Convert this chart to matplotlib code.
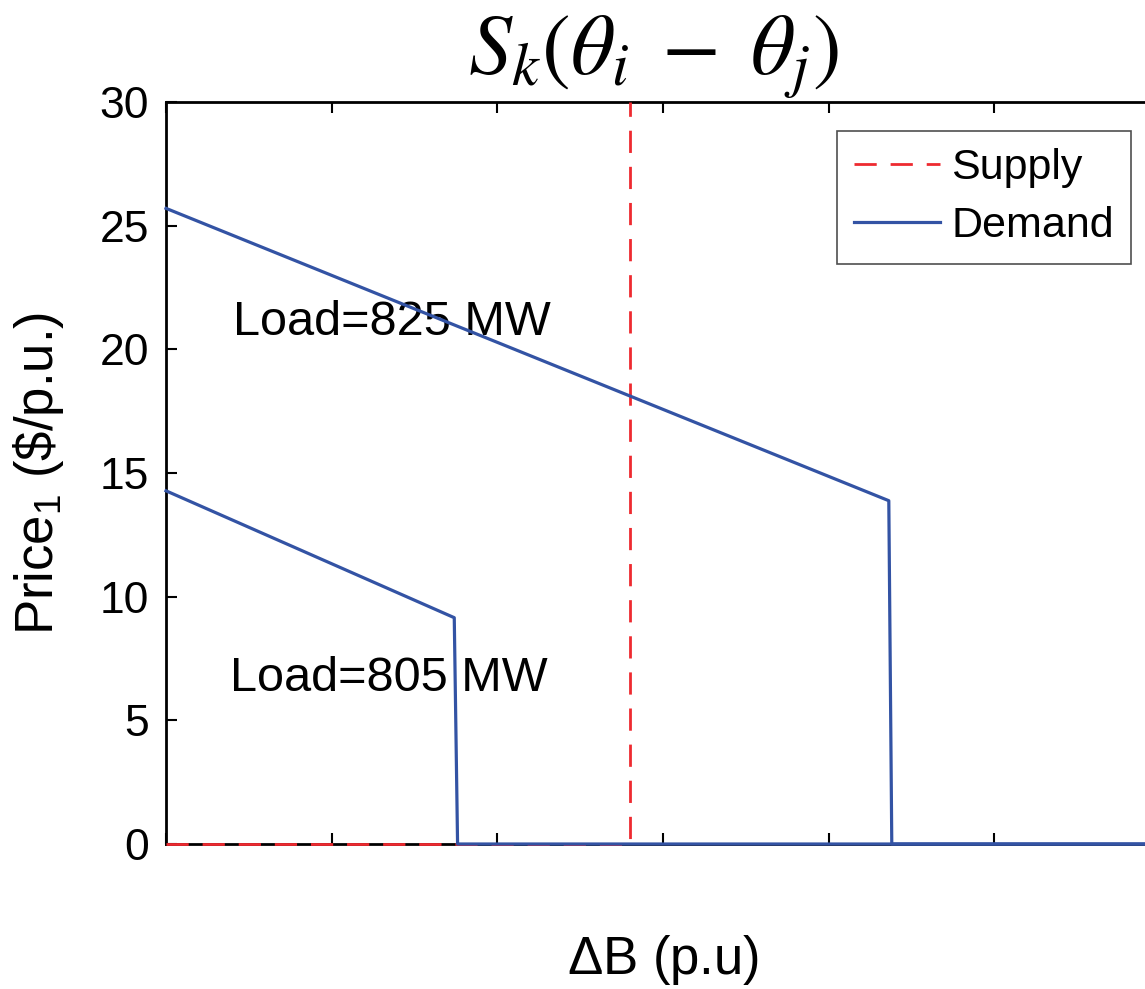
import matplotlib
matplotlib.use("Agg")
import matplotlib.pyplot as plt

plt.rcParams['font.family'] = ['Liberation Sans', 'DejaVu Sans']
plt.rcParams['mathtext.fontset'] = 'custom'
plt.rcParams['mathtext.rm'] = 'Liberation Sans'
plt.rcParams['mathtext.it'] = 'Liberation Sans:italic'

# data (x in tick units, y in $/p.u.)
supply_x = [0, 2.80, 2.80]
supply_y = [0, 0, 30]

demand825_x = [0, 4.363, 4.381, 6.2]
demand825_y = [25.7, 13.88, 0, 0]

demand805_x = [0, 1.740, 1.760, 6.2]
demand805_y = [14.28, 9.15, 0, 0]

labels = ["Load=825 MW", "Load=805 MW"]
label_pos = [(0.404, 21.07), (0.386, 6.71)]

yticks = [0, 5, 10, 15, 20, 25, 30]

blue = "#3353a4"
red = "#ee2a30"

W, H = 1145, 989
fig = plt.figure(figsize=(W / 100, H / 100), dpi=100)
ax = fig.add_axes([166 / W, (H - 844) / H, (1160 - 166) / W, (844 - 102) / H])

ax.plot(supply_x, supply_y, color=red, lw=2, dashes=(8, 5), label="Supply",
        zorder=4, clip_on=False)
ax.plot(demand825_x, demand825_y, color=blue, lw=2.3, label="Demand", zorder=5,
        clip_on=False)
ax.plot(demand805_x, demand805_y, color=blue, lw=2.3, zorder=5, clip_on=False)

for txt, (tx, ty) in zip(labels, label_pos):
    ax.text(tx, ty, txt, fontsize=35, ha="left", va="center")

ax.set_xlim(0, 6)
ax.set_ylim(0, 30)
ax.set_xticks(range(7))
ax.set_xticklabels([])
ax.set_yticks(yticks)
ax.set_yticklabels([str(v) for v in yticks])
ax.tick_params(direction="in", length=8, width=1.5, labelsize=32, pad=12,
               top=True, right=True)
for s in ax.spines.values():
    s.set_linewidth(2)

ax.set_xlabel(r"$\Delta$B (p.u)", fontsize=38, labelpad=52)
ax.set_ylabel(r"Price$_1$ (\$/p.u.)", fontsize=38, labelpad=24)
ax.set_title(r"$S_k(\theta_i\;-\;\theta_j)$", fontsize=62, math_fontfamily="stix",
             pad=20, x=0.49)

leg = ax.legend(loc="upper right", bbox_to_anchor=(1131 / W, (H - 131) / H),
                bbox_transform=fig.transFigure, fontsize=31, frameon=True,
                fancybox=False, edgecolor="#222222", handlelength=2.0,
                handletextpad=0.25, borderpad=0.4, labelspacing=0.42,
                borderaxespad=0)
leg.get_frame().set_linewidth(1.2)

fig.savefig("out.png", dpi=100)
